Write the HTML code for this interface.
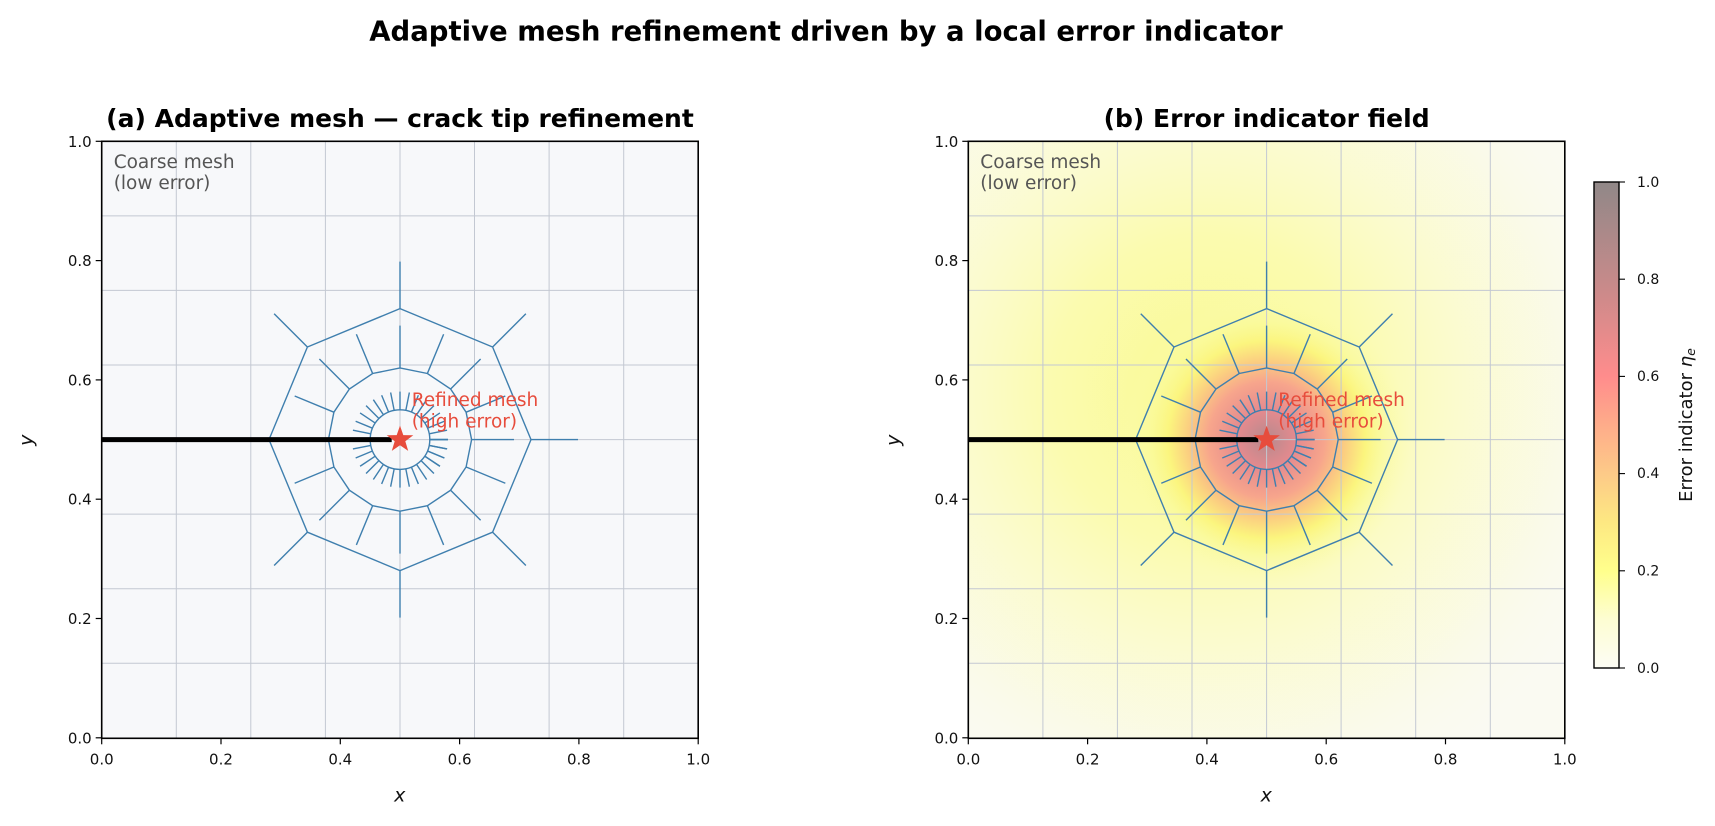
<!DOCTYPE html>
<html><head><meta charset="utf-8"><style>
html,body{margin:0;padding:0;background:#fff}
svg{display:block}
text{font-family:"DejaVu Sans","Liberation Sans",sans-serif}
</style></head><body>
<svg width="1715" height="826" viewBox="0 0 1715 826" xmlns="http://www.w3.org/2000/svg">
<defs>
  <g id="mesh" fill="none" stroke="#3f7fae" stroke-width="1.4">
    <polygon points="131,0 92.6,92.6 0,131 -92.6,92.6 -131,0 -92.6,-92.6 0,-131 92.6,-92.6"/>
    <polygon points="71.6,0 66.1,27.4 50.6,50.6 27.4,66.1 0,71.6 -27.4,66.1 -50.6,50.6 -66.1,27.4 -71.6,0 -66.1,-27.4 -50.6,-50.6 -27.4,-66.1 0,-71.6 27.4,-66.1 50.6,-50.6 66.1,-27.4"/>
    <circle r="29.8"/>
    <g id="o1"><line x1="131" y1="0" x2="178" y2="0"/></g>
    <use href="#o1" transform="rotate(45)"/><use href="#o1" transform="rotate(90)"/><use href="#o1" transform="rotate(135)"/>
    <use href="#o1" transform="rotate(225)"/><use href="#o1" transform="rotate(270)"/><use href="#o1" transform="rotate(315)"/>
    <g id="m1"><line x1="71.6" y1="0" x2="114" y2="0"/></g>
    <use href="#m1" transform="rotate(22.5)"/><use href="#m1" transform="rotate(45)"/><use href="#m1" transform="rotate(67.5)"/>
    <use href="#m1" transform="rotate(90)"/><use href="#m1" transform="rotate(112.5)"/><use href="#m1" transform="rotate(135)"/>
    <use href="#m1" transform="rotate(157.5)"/><use href="#m1" transform="rotate(202.5)"/>
    <use href="#m1" transform="rotate(225)"/><use href="#m1" transform="rotate(247.5)"/><use href="#m1" transform="rotate(270)"/>
    <use href="#m1" transform="rotate(292.5)"/><use href="#m1" transform="rotate(315)"/><use href="#m1" transform="rotate(337.5)"/>
    <g id="i1"><line x1="29.8" y1="0" x2="48" y2="0"/></g>
    <g id="i4"><use href="#i1"/><use href="#i1" transform="rotate(11.25)"/><use href="#i1" transform="rotate(22.5)"/><use href="#i1" transform="rotate(33.75)"/></g>
    <use href="#i4"/><use href="#i4" transform="rotate(45)"/><use href="#i4" transform="rotate(90)"/><use href="#i4" transform="rotate(135)"/>
    <use href="#i4" transform="rotate(180)"/><use href="#i4" transform="rotate(225)"/><use href="#i4" transform="rotate(270)"/><use href="#i4" transform="rotate(315)"/>
  </g>
  <g id="grid" stroke="#c3c8d2" stroke-width="1">
    <line x1="74.6" y1="0" x2="74.6" y2="597"/><line x1="149.1" y1="0" x2="149.1" y2="597"/><line x1="223.7" y1="0" x2="223.7" y2="597"/>
    <line x1="298.3" y1="0" x2="298.3" y2="597"/><line x1="372.8" y1="0" x2="372.8" y2="597"/><line x1="447.4" y1="0" x2="447.4" y2="597"/><line x1="522" y1="0" x2="522" y2="597"/>
    <line y1="74.6" x1="0" y2="74.6" x2="597"/><line y1="149.1" x1="0" y2="149.1" x2="597"/><line y1="223.7" x1="0" y2="223.7" x2="597"/>
    <line y1="298.3" x1="0" y2="298.3" x2="597"/><line y1="372.8" x1="0" y2="372.8" x2="597"/><line y1="447.4" x1="0" y2="447.4" x2="597"/><line y1="522" x1="0" y2="522" x2="597"/>
  </g>
  <g id="ticks" font-size="15" fill="#111">
    <g stroke="#000" stroke-width="1.2">
      <line x1="0" y1="597" x2="0" y2="603"/><line x1="119.3" y1="597" x2="119.3" y2="603"/><line x1="238.6" y1="597" x2="238.6" y2="603"/>
      <line x1="357.9" y1="597" x2="357.9" y2="603"/><line x1="477.2" y1="597" x2="477.2" y2="603"/><line x1="596.5" y1="597" x2="596.5" y2="603"/>
      <line x1="-6" y1="0" x2="0" y2="0"/><line x1="-6" y1="119.3" x2="0" y2="119.3"/><line x1="-6" y1="238.6" x2="0" y2="238.6"/>
      <line x1="-6" y1="357.9" x2="0" y2="357.9"/><line x1="-6" y1="477.2" x2="0" y2="477.2"/><line x1="-6" y1="596.5" x2="0" y2="596.5"/>
    </g>
    <g text-anchor="middle">
      <text x="0" y="623">0.0</text><text x="119.3" y="623">0.2</text><text x="238.6" y="623">0.4</text>
      <text x="357.9" y="623">0.6</text><text x="477.2" y="623">0.8</text><text x="596.5" y="623">1.0</text>
    </g>
    <g text-anchor="end">
      <text x="-10" y="602">0.0</text><text x="-10" y="482.7">0.2</text><text x="-10" y="363.4">0.4</text>
      <text x="-10" y="244.1">0.6</text><text x="-10" y="124.8">0.8</text><text x="-10" y="5.5">1.0</text>
    </g>
    <text x="298" y="660" font-size="19" font-style="italic" text-anchor="middle">x</text>
    <text transform="translate(-69,299) rotate(-90)" font-size="19" font-style="italic" text-anchor="middle">y</text>
  </g>
  <path id="star" d="M0,-14 L3.3,-4.5 L13.3,-4.3 L5.3,1.7 L8.2,11.3 L0,5.6 L-8.2,11.3 L-5.3,1.7 L-13.3,-4.3 L-3.3,-4.5 Z" fill="#e74c3c"/>
  <radialGradient id="broad" cx="0.4" cy="0.42" r="0.75">
    <stop offset="0" stop-color="#fafa90" stop-opacity="1"/>
    <stop offset="0.35" stop-color="#fbfbac" stop-opacity="0.95"/>
    <stop offset="0.75" stop-color="#fbfbd8" stop-opacity="0.6"/>
    <stop offset="1" stop-color="#fbfbf0" stop-opacity="0"/>
  </radialGradient>
  <radialGradient id="peak" cx="0.5" cy="0.5" r="0.5">
    <stop offset="0" stop-color="#b58a8e"/>
    <stop offset="0.2" stop-color="#e48a8e"/>
    <stop offset="0.4" stop-color="#f7a58c"/>
    <stop offset="0.55" stop-color="#fbd080"/>
    <stop offset="0.68" stop-color="#fbf57e"/>
    <stop offset="0.82" stop-color="#fafa9a" stop-opacity="0.6"/>
    <stop offset="1" stop-color="#fafab0" stop-opacity="0"/>
  </radialGradient>
  <linearGradient id="cb" x1="0" y1="1" x2="0" y2="0">
    <stop offset="0" stop-color="#fdfdf5"/>
    <stop offset="0.1" stop-color="#fdfdd2"/>
    <stop offset="0.2" stop-color="#ffff8c"/>
    <stop offset="0.3" stop-color="#fde882"/>
    <stop offset="0.4" stop-color="#fdca88"/>
    <stop offset="0.5" stop-color="#feac8a"/>
    <stop offset="0.6" stop-color="#ff8c8c"/>
    <stop offset="0.8" stop-color="#c48a8a"/>
    <stop offset="1" stop-color="#908888"/>
  </linearGradient>
</defs>

<text x="826" y="40.5" font-size="27.5" font-weight="bold" text-anchor="middle" fill="#000">Adaptive mesh refinement driven by a local error indicator</text>

<!-- Left panel -->
<g transform="translate(101.7,141.3)">
  <rect x="0" y="0" width="596.5" height="597" fill="#f7f8fa"/>
  <use href="#grid"/>
  <g transform="translate(298.3,298.3)"><use href="#mesh"/></g>
  <line x1="0" y1="298.3" x2="290" y2="298.3" stroke="#000" stroke-width="5"/>
  <g transform="translate(298.3,298.3)"><use href="#star"/></g>
  <text x="310" y="264.5" font-size="18.5" fill="#e74c3c">Refined mesh</text>
  <text x="310" y="286" font-size="18.5" fill="#e74c3c">(high error)</text>
  <text x="12" y="26.5" font-size="18.5" fill="#555">Coarse mesh</text>
  <text x="12" y="47.5" font-size="18.5" fill="#555">(low error)</text>
  <rect x="0" y="0" width="596.5" height="597" fill="none" stroke="#000" stroke-width="1.6"/>
  <use href="#ticks"/>
  <text x="298.3" y="-14.5" font-size="25" font-weight="bold" text-anchor="middle">(a) Adaptive mesh — crack tip refinement</text>
</g>

<!-- Right panel -->
<g transform="translate(968.3,141.3)">
  <rect x="0" y="0" width="596.5" height="597" fill="#fafaf2"/>
  <rect x="0" y="0" width="596.5" height="597" fill="url(#broad)"/>
  <circle cx="298.3" cy="298.3" r="145" fill="url(#peak)"/>
  <use href="#grid"/>
  <g transform="translate(298.3,298.3)"><use href="#mesh"/></g>
  <line x1="0" y1="298.3" x2="290" y2="298.3" stroke="#000" stroke-width="5"/>
  <g transform="translate(298.3,298.3)"><use href="#star"/></g>
  <text x="310" y="264.5" font-size="18.5" fill="#e74c3c">Refined mesh</text>
  <text x="310" y="286" font-size="18.5" fill="#e74c3c">(high error)</text>
  <text x="12" y="26.5" font-size="18.5" fill="#555">Coarse mesh</text>
  <text x="12" y="47.5" font-size="18.5" fill="#555">(low error)</text>
  <rect x="0" y="0" width="596.5" height="597" fill="none" stroke="#000" stroke-width="1.6"/>
  <use href="#ticks"/>
  <text x="298.3" y="-14.5" font-size="25" font-weight="bold" text-anchor="middle">(b) Error indicator field</text>
</g>

<!-- Colorbar -->
<g>
  <rect x="1594" y="182" width="25" height="486" fill="url(#cb)" stroke="#000" stroke-width="1.4"/>
  <g stroke="#000" stroke-width="1.1">
    <line x1="1619" y1="182" x2="1625" y2="182"/><line x1="1619" y1="279.2" x2="1625" y2="279.2"/>
    <line x1="1619" y1="376.4" x2="1625" y2="376.4"/><line x1="1619" y1="473.6" x2="1625" y2="473.6"/>
    <line x1="1619" y1="570.8" x2="1625" y2="570.8"/><line x1="1619" y1="668" x2="1625" y2="668"/>
  </g>
  <g font-size="14" fill="#111">
    <text x="1637" y="187">1.0</text><text x="1637" y="284">0.8</text><text x="1637" y="381">0.6</text>
    <text x="1637" y="478">0.4</text><text x="1637" y="575.5">0.2</text><text x="1637" y="673">0.0</text>
  </g>
  <text transform="translate(1692,425) rotate(-90)" font-size="18" text-anchor="middle" fill="#111">Error indicator <tspan font-style="italic">η</tspan><tspan font-size="12.5" font-style="italic" dy="3">e</tspan></text>
</g>
</svg>
</body></html>
